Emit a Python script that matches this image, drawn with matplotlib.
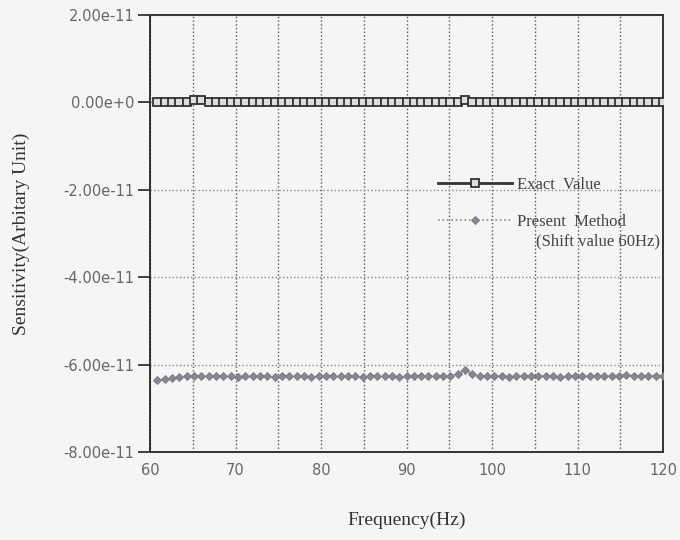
import numpy as np
import matplotlib
matplotlib.use('Agg')
import matplotlib.pyplot as plt
from matplotlib.ticker import MultipleLocator, FuncFormatter

# Frequencies (Hz) of the computed points
freq = [60.86, 61.71, 62.57, 63.43, 64.29, 65.14, 66.00, 66.86, 67.71, 68.57,
        69.43, 70.29, 71.14, 72.00, 72.86, 73.71, 74.57, 75.43, 76.29, 77.14,
        78.00, 78.86, 79.71, 80.57, 81.43, 82.29, 83.14, 84.00, 84.86, 85.71,
        86.57, 87.43, 88.29, 89.14, 90.00, 90.86, 91.71, 92.57, 93.43, 94.29,
        95.14, 96.00, 96.86, 97.71, 98.57, 99.43, 100.29, 101.14, 102.00, 102.86,
        103.71, 104.57, 105.43, 106.29, 107.14, 108.00, 108.86, 109.71, 110.57, 111.43,
        112.29, 113.14, 114.00, 114.86, 115.71, 116.57, 117.43, 118.29, 119.14, 120.00]

# Exact value (x1e-11)
exact = [0.0, 0.0, 0.0, 0.0, 0.0, 0.05, 0.05, 0.0, 0.0, 0.0,
         0.0, 0.0, 0.0, 0.0, 0.0, 0.0, 0.0, 0.0, 0.0, 0.0,
         0.0, 0.0, 0.0, 0.0, 0.0, 0.0, 0.0, 0.0, 0.0, 0.0,
         0.0, 0.0, 0.0, 0.0, 0.0, 0.0, 0.0, 0.0, 0.0, 0.0,
         0.0, 0.0, 0.05, 0.0, 0.0, 0.0, 0.0, 0.0, 0.0, 0.0,
         0.0, 0.0, 0.0, 0.0, 0.0, 0.0, 0.0, 0.0, 0.0, 0.0,
         0.0, 0.0, 0.0, 0.0, 0.0, 0.0, 0.0, 0.0, 0.0, 0.0]

# Present method, shift value 60Hz (x1e-11)
present = [-6.35, -6.33, -6.31, -6.29, -6.27, -6.26, -6.27, -6.26, -6.27, -6.26,
           -6.27, -6.28, -6.27, -6.26, -6.27, -6.27, -6.28, -6.27, -6.26, -6.27,
           -6.27, -6.28, -6.27, -6.26, -6.27, -6.27, -6.26, -6.27, -6.28, -6.27,
           -6.26, -6.27, -6.27, -6.28, -6.27, -6.26, -6.27, -6.27, -6.26, -6.27,
           -6.27, -6.21, -6.12, -6.22, -6.27, -6.27, -6.26, -6.27, -6.28, -6.27,
           -6.26, -6.27, -6.27, -6.26, -6.27, -6.28, -6.27, -6.26, -6.27, -6.27,
           -6.26, -6.27, -6.26, -6.25, -6.23, -6.26, -6.27, -6.27, -6.26, -6.27]

exact = np.array(exact) * 1e-11
present = np.array(present) * 1e-11

plt.rcParams['font.family'] = 'DejaVu Sans'

bg = '#f5f5f3'
fig = plt.figure(figsize=(6.8, 5.4), dpi=100, facecolor=bg)
ax = fig.add_axes([0.2206, 0.163, 0.7544, 0.809])
ax.set_facecolor(bg)

ax.plot(freq, exact, '-', color='#333333', lw=2.0, marker='s', ms=6,
        mfc='#dddddd', mec='#333333', mew=1.3, label='Exact  Value', zorder=4)
ax.plot(freq, present, ':', color='#8a8890', lw=1.2, marker='D', ms=4.2,
        mfc='#8a8690', mec='#7a7680', mew=0.6,
        label='Present  Method', zorder=3)

ax.set_xlim(60, 120)
ax.set_ylim(-8e-11, 2e-11)
ax.set_xticks([60, 70, 80, 90, 100, 110, 120])
ax.xaxis.set_minor_locator(MultipleLocator(5))
ax.set_yticks([-8e-11, -6e-11, -4e-11, -2e-11, 0, 2e-11])


def yfmt(v, pos):
    if abs(v) < 1e-15:
        return '0.00e+0'
    return '%.2fe-11' % (v / 1e-11)


ax.yaxis.set_major_formatter(FuncFormatter(yfmt))

ax.grid(True, which='both', axis='x', ls=':', color='#555555', lw=1.0)
ax.grid(True, which='major', axis='y', ls=':', color='#888888', lw=1.0)
ax.set_axisbelow(True)

ax.tick_params(axis='x', which='both', length=0, pad=8, labelcolor='#666666',
               labelsize=10.5)
ax.tick_params(axis='y', length=9, width=1.3, color='#333333', direction='out',
               pad=2, labelcolor='#666666', labelsize=10.5)

for s in ax.spines.values():
    s.set_color('#333333')
    s.set_linewidth(1.4)

ax.set_xlabel('Frequency(Hz)', family='Liberation Serif', fontsize=14,
              color='#333333', labelpad=24)
ax.set_ylabel('Sensitivity(Arbitary Unit)', family='Liberation Serif',
              fontsize=14, color='#333333', labelpad=24)

leg = ax.legend(loc='upper left', bbox_to_anchor=(0.546, 0.648), frameon=False,
                prop={'family': 'Liberation Serif', 'size': 12},
                handlelength=4.4, handletextpad=0.3, labelspacing=1.25,
                borderpad=0)
for t in leg.get_texts():
    t.set_color('#444444')
ax.text(0.752, 0.483, '(Shift value 60Hz)', transform=ax.transAxes,
        family='Liberation Serif', fontsize=12, color='#444444',
        ha='left', va='center')

fig.savefig('out.png', dpi=100, facecolor=bg)
